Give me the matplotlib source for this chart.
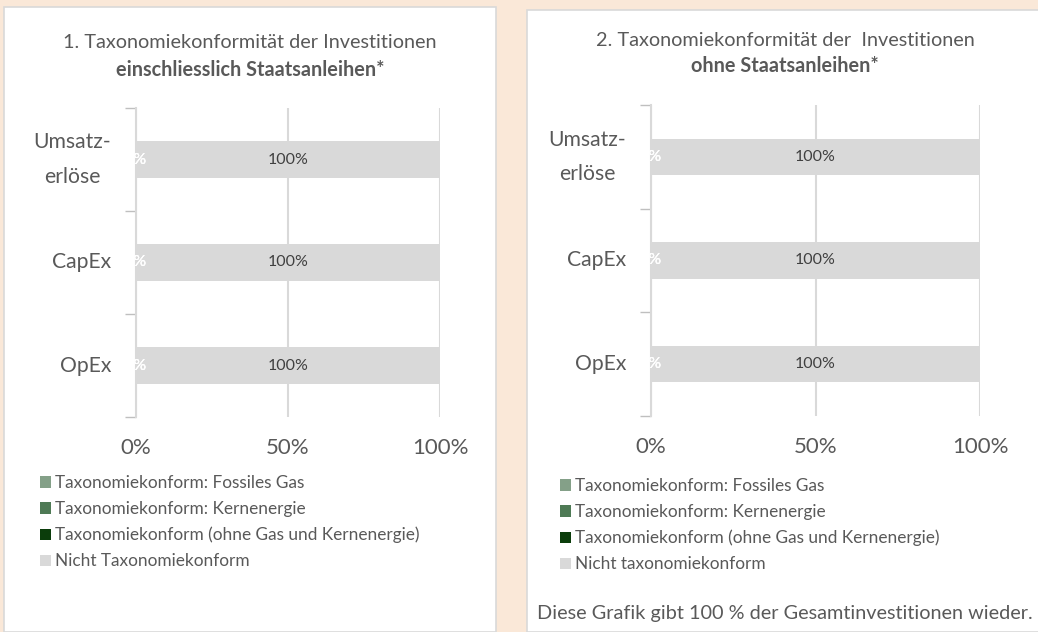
import numpy as np
import matplotlib.pyplot as plt
from matplotlib.patches import Rectangle, Patch

plt.rcParams['font.family'] = ['Lato', 'DejaVu Sans']

categories = ['Umsatz-\nerlöse', 'CapEx', 'OpEx']
series_names_1 = ['Taxonomiekonform: Fossiles Gas', 'Taxonomiekonform: Kernenergie',
                  'Taxonomiekonform (ohne Gas und Kernenergie)', 'Nicht Taxonomiekonform']
series_names_2 = ['Taxonomiekonform: Fossiles Gas', 'Taxonomiekonform: Kernenergie',
                  'Taxonomiekonform (ohne Gas und Kernenergie)', 'Nicht taxonomiekonform']

# chart 1: including sovereign bonds
gas_1 = [0, 0, 0]
nuclear_1 = [0, 0, 0]
aligned_1 = [0, 0, 0]
not_aligned_1 = [100, 100, 100]

# chart 2: excluding sovereign bonds
gas_2 = [0, 0, 0]
nuclear_2 = [0, 0, 0]
aligned_2 = [0, 0, 0]
not_aligned_2 = [100, 100, 100]

colors = ['#84A088', '#4E7A55', '#0B3D0B', '#D9D9D9']
txt = '#595959'
W, H = 1038, 632

fig = plt.figure(figsize=(W / 100, H / 100), dpi=100)
fig.patch.set_facecolor('#FAE8D8')

# white panels
fig.patches.append(Rectangle((4 / W, 0), 492 / W, (H - 7) / H, transform=fig.transFigure,
                             facecolor='white', edgecolor='#D9D9D9', lw=1.2, zorder=-10))
fig.patches.append(Rectangle((527 / W, 0), 515 / W, (H - 10) / H, transform=fig.transFigure,
                             facecolor='white', edgecolor='#D9D9D9', lw=1.2, zorder=-10))


def px_axes(x0, x1, y0, y1):
    return fig.add_axes([x0 / W, (H - y1) / H, (x1 - x0) / W, (y1 - y0) / H])


def draw(ax, gas, nuclear, aligned, not_aligned):
    y = np.arange(len(categories))
    left = np.zeros(len(categories))
    series = [gas, nuclear, aligned, not_aligned]
    for i, vals in enumerate(series):
        bars = ax.barh(y, vals, 0.35, left=left, color=colors[i], zorder=2)
        if i < 3:
            ax.bar_label(bars, labels=['%d%%' % v for v in vals], label_type='center',
                         color='white', fontsize=11.5, zorder=3)
        else:
            ax.bar_label(bars, labels=['%d%%' % v for v in vals], label_type='center',
                         color='#404040', fontsize=11.5, zorder=3)
        left = left + np.array(vals)
    ax.set_xlim(0, 100)
    ax.set_ylim(len(categories) - 0.5, -0.5)
    ax.set_yticks(y)
    ax.set_yticklabels(categories, fontsize=15.2, color=txt, linespacing=1.9, va='center',
                       multialignment='center')
    ax.set_yticks(np.arange(-0.5, len(categories)), minor=True)
    ax.tick_params(axis='y', which='major', length=0, pad=18)
    ax.tick_params(axis='y', which='minor', length=8, color='#BFBFBF', width=1)
    ax.set_xticks([0, 50, 100])
    ax.set_xticklabels(['0%', '50%', '100%'], fontsize=16, color=txt)
    ax.tick_params(axis='x', length=0, pad=15)
    ax.grid(axis='x', color='#D9D9D9', lw=1.5, zorder=1)
    for s in ['top', 'right', 'bottom']:
        ax.spines[s].set_visible(False)
    ax.spines['left'].set_color('#D9D9D9')
    ax.spines['left'].set_linewidth(1.5)
    ax.set_facecolor('none')


ax1 = px_axes(136, 440, 108, 417)
draw(ax1, gas_1, nuclear_1, aligned_1, not_aligned_1)
ax2 = px_axes(651, 980, 105, 416)
draw(ax2, gas_2, nuclear_2, aligned_2, not_aligned_2)

# titles
fig.text(250 / W, 1 - 43 / H, '1. Taxonomiekonformität der Investitionen', ha='center', va='center',
         fontsize=14.3, color=txt)
fig.text(250 / W, 1 - 70 / H, 'einschliesslich Staatsanleihen*', ha='center', va='center',
         fontsize=14.3, color=txt, fontweight='bold')
fig.text(785 / W, 1 - 40 / H, '2. Taxonomiekonformität der  Investitionen', ha='center', va='center',
         fontsize=14.3, color=txt)
fig.text(785 / W, 1 - 66 / H, 'ohne Staatsanleihen*', ha='center', va='center',
         fontsize=14.3, color=txt, fontweight='bold')

# legends
for names, x0, y0 in [(series_names_1, 33, 468), (series_names_2, 553, 471)]:
    handles = [Patch(facecolor=c, edgecolor='none') for c in colors]
    fig.legend(handles, names, loc='upper left', bbox_to_anchor=(x0 / W, 1 - y0 / H),
               frameon=False, fontsize=12.4, labelcolor=txt, handlelength=0.65,
               handleheight=0.65, handletextpad=0.25, labelspacing=0.58, borderaxespad=0)

fig.text(537 / W, 1 - 613 / H, 'Diese Grafik gibt 100 % der Gesamtinvestitionen wieder.',
         ha='left', va='center', fontsize=14.3, color=txt)

fig.savefig('out.png', dpi=100, facecolor=fig.get_facecolor())
